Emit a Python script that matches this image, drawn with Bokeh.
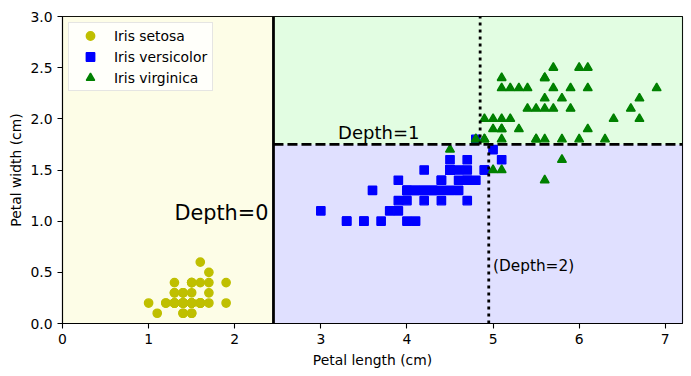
from bokeh.plotting import figure
from bokeh.models import Range1d, FixedTicker, Label, Legend, LegendItem, NumeralTickFormatter
from bokeh.embed import file_html
from bokeh.resources import INLINE

# ---- data (petal length / width, cm) ----
setosa_length = [1.4, 1.4, 1.3, 1.5, 1.4, 1.7, 1.4, 1.5, 1.4, 1.5, 1.5, 1.6, 1.4, 1.1, 1.2, 1.5, 1.3,
                 1.4, 1.7, 1.5, 1.7, 1.5, 1.0, 1.7, 1.9, 1.6, 1.6, 1.5, 1.4, 1.6, 1.6, 1.5, 1.5, 1.4,
                 1.5, 1.2, 1.3, 1.4, 1.3, 1.5, 1.3, 1.3, 1.3, 1.6, 1.9, 1.4, 1.6, 1.4, 1.5, 1.4]
setosa_width = [0.2, 0.2, 0.2, 0.2, 0.2, 0.4, 0.3, 0.2, 0.2, 0.1, 0.2, 0.2, 0.1, 0.1, 0.2, 0.4, 0.4,
                0.3, 0.3, 0.3, 0.2, 0.4, 0.2, 0.5, 0.2, 0.2, 0.4, 0.2, 0.2, 0.2, 0.2, 0.4, 0.1, 0.2,
                0.2, 0.2, 0.2, 0.1, 0.2, 0.2, 0.3, 0.3, 0.2, 0.6, 0.4, 0.3, 0.2, 0.2, 0.2, 0.2]
versicolor_length = [4.7, 4.5, 4.9, 4.0, 4.6, 4.5, 4.7, 3.3, 4.6, 3.9, 3.5, 4.2, 4.0, 4.7, 3.6, 4.4, 4.5,
                     4.1, 4.5, 3.9, 4.8, 4.0, 4.9, 4.7, 4.3, 4.4, 4.8, 5.0, 4.5, 3.5, 3.8, 3.7, 3.9, 5.1,
                     4.5, 4.5, 4.7, 4.4, 4.1, 4.0, 4.4, 4.6, 4.0, 3.3, 4.2, 4.2, 4.2, 4.3, 3.0, 4.1]
versicolor_width = [1.4, 1.5, 1.5, 1.3, 1.5, 1.3, 1.6, 1.0, 1.3, 1.4, 1.0, 1.5, 1.0, 1.4, 1.3, 1.4, 1.5,
                    1.0, 1.5, 1.1, 1.8, 1.3, 1.5, 1.2, 1.3, 1.4, 1.4, 1.7, 1.5, 1.0, 1.1, 1.0, 1.2, 1.6,
                    1.5, 1.6, 1.5, 1.3, 1.3, 1.3, 1.2, 1.4, 1.2, 1.0, 1.3, 1.2, 1.3, 1.3, 1.1, 1.3]
virginica_length = [6.0, 5.1, 5.9, 5.6, 5.8, 6.6, 4.5, 6.3, 5.8, 6.1, 5.1, 5.3, 5.5, 5.0, 5.1, 5.3, 5.5,
                    6.7, 6.9, 5.0, 5.7, 4.9, 6.7, 4.9, 5.7, 6.0, 4.8, 4.9, 5.6, 5.8, 6.1, 6.4, 5.6, 5.1,
                    5.6, 6.1, 5.6, 5.5, 4.8, 5.4, 5.6, 5.1, 5.1, 5.9, 5.7, 5.2, 5.0, 5.2, 5.4, 5.1]
virginica_width = [2.5, 1.9, 2.1, 1.8, 2.2, 2.1, 1.7, 1.8, 1.8, 2.5, 2.0, 1.9, 2.1, 2.0, 2.4, 2.3, 1.8,
                   2.2, 2.3, 1.5, 2.3, 2.0, 2.0, 1.8, 2.1, 1.8, 1.8, 1.8, 2.1, 1.6, 1.9, 2.0, 2.2, 1.5,
                   1.4, 2.3, 2.4, 1.8, 1.8, 2.1, 2.4, 2.3, 1.9, 2.3, 2.5, 2.3, 1.9, 2.0, 2.3, 1.8]

# decision tree thresholds
depth0_length_split = 2.45
depth1_width_split = 1.75
depth2_length_split_low = 4.95
depth2_length_split_high = 4.85
x_limits = [0.0, 7.2]
y_limits = [0.0, 3.0]

class_names = ["Iris setosa", "Iris versicolor", "Iris virginica"]
x_ticks = [0, 1, 2, 3, 4, 5, 6, 7]
y_ticks = [0.0, 0.5, 1.0, 1.5, 2.0, 2.5, 3.0]

FONT = "DejaVu Sans"
BASE = "13.9px"

p = figure(width=691, height=376, output_backend="svg", toolbar_location=None,
           x_range=Range1d(*x_limits), y_range=Range1d(*y_limits),
           min_border_left=62, min_border_right=9, min_border_top=16, min_border_bottom=53)
p.background_fill_color = "white"
p.border_fill_color = "white"
p.outline_line_color = "black"
p.outline_line_width = 1.1
p.xgrid.visible = False
p.ygrid.visible = False

# decision regions
p.quad(left=[x_limits[0]], right=[depth0_length_split], bottom=[y_limits[0]], top=[y_limits[1]],
       fill_color="#fafab0", fill_alpha=0.3, line_color=None)
p.quad(left=[depth0_length_split], right=[x_limits[1]], bottom=[y_limits[0]], top=[depth1_width_split],
       fill_color="#9898ff", fill_alpha=0.3, line_color=None)
p.quad(left=[depth0_length_split], right=[x_limits[1]], bottom=[depth1_width_split], top=[y_limits[1]],
       fill_color="#a0faa0", fill_alpha=0.3, line_color=None)

r1 = p.scatter(setosa_length, setosa_width, marker="circle", size=8.3,
               fill_color="#bfbf00", line_color="#bfbf00", line_width=1.4)
r2 = p.scatter(versicolor_length, versicolor_width, marker="square", size=8.3,
               fill_color="#0000ff", line_color="#0000ff", line_width=1.4)
r3 = p.scatter(virginica_length, virginica_width, marker="triangle", size=8.8,
               fill_color="#008000", line_color="#008000", line_width=1.4)

# boundaries
p.segment(x0=[depth0_length_split], y0=[y_limits[0]], x1=[depth0_length_split], y1=[y_limits[1]],
          line_color="black", line_width=2.8)
p.segment(x0=[depth0_length_split], y0=[depth1_width_split], x1=[x_limits[1]], y1=[depth1_width_split],
          line_color="black", line_width=2.8, line_dash="10 4")
p.segment(x0=[depth2_length_split_low], y0=[y_limits[0]], x1=[depth2_length_split_low], y1=[depth1_width_split],
          line_color="black", line_width=2.8, line_dash="3 4")
p.segment(x0=[depth2_length_split_high], y0=[depth1_width_split], x1=[depth2_length_split_high], y1=[y_limits[1]],
          line_color="black", line_width=2.8, line_dash="3 4")

p.add_layout(Label(x=1.30, y=1.0, text="Depth=0", text_font=FONT, text_font_size="20.8px",
                   text_baseline="alphabetic", text_color="black", y_offset=8))
p.add_layout(Label(x=3.2, y=1.80, text="Depth=1", text_font=FONT, text_font_size="18px",
                   text_baseline="alphabetic", text_color="black", y_offset=7))
p.add_layout(Label(x=5.0, y=0.5, text="(Depth=2)", text_font=FONT, text_font_size="15.3px",
                   text_baseline="alphabetic", text_color="black", y_offset=6))

legend = Legend(items=[LegendItem(label=class_names[0], renderers=[r1]),
                       LegendItem(label=class_names[1], renderers=[r2]),
                       LegendItem(label=class_names[2], renderers=[r3])],
                location="top_left", margin=6, padding=2, spacing=0,
                glyph_height=21, glyph_width=38, label_height=21, label_width=96, label_standoff=5,
                label_text_font=FONT, label_text_font_size=BASE, label_text_color="black",
                border_line_color="#cccccc", border_line_width=1,
                background_fill_color="white", background_fill_alpha=0.8)
p.add_layout(legend)

for ax in (p.xaxis[0], p.yaxis[0]):
    ax.axis_line_color = "black"
    ax.axis_line_width = 1.1
    ax.major_tick_line_color = "black"
    ax.major_tick_line_width = 1.1
    ax.major_tick_in = 0
    ax.major_tick_out = 5
    ax.minor_tick_line_color = None
    ax.major_label_text_font = FONT
    ax.major_label_text_font_size = BASE
    ax.major_label_text_color = "black"
    ax.major_label_standoff = 5
    ax.axis_label_text_font = FONT
    ax.axis_label_text_font_size = BASE
    ax.axis_label_text_font_style = "normal"
    ax.axis_label_text_color = "black"

p.xaxis[0].ticker = FixedTicker(ticks=x_ticks)
p.yaxis[0].ticker = FixedTicker(ticks=y_ticks)
p.xaxis[0].formatter = NumeralTickFormatter(format="0")
p.yaxis[0].formatter = NumeralTickFormatter(format="0.0")
p.xaxis[0].axis_label = "Petal length (cm)"
p.yaxis[0].axis_label = "Petal width (cm)"
p.xaxis[0].axis_label_standoff = 5
p.yaxis[0].axis_label_standoff = 3

open("out.html", "w").write(file_html(p, INLINE))
